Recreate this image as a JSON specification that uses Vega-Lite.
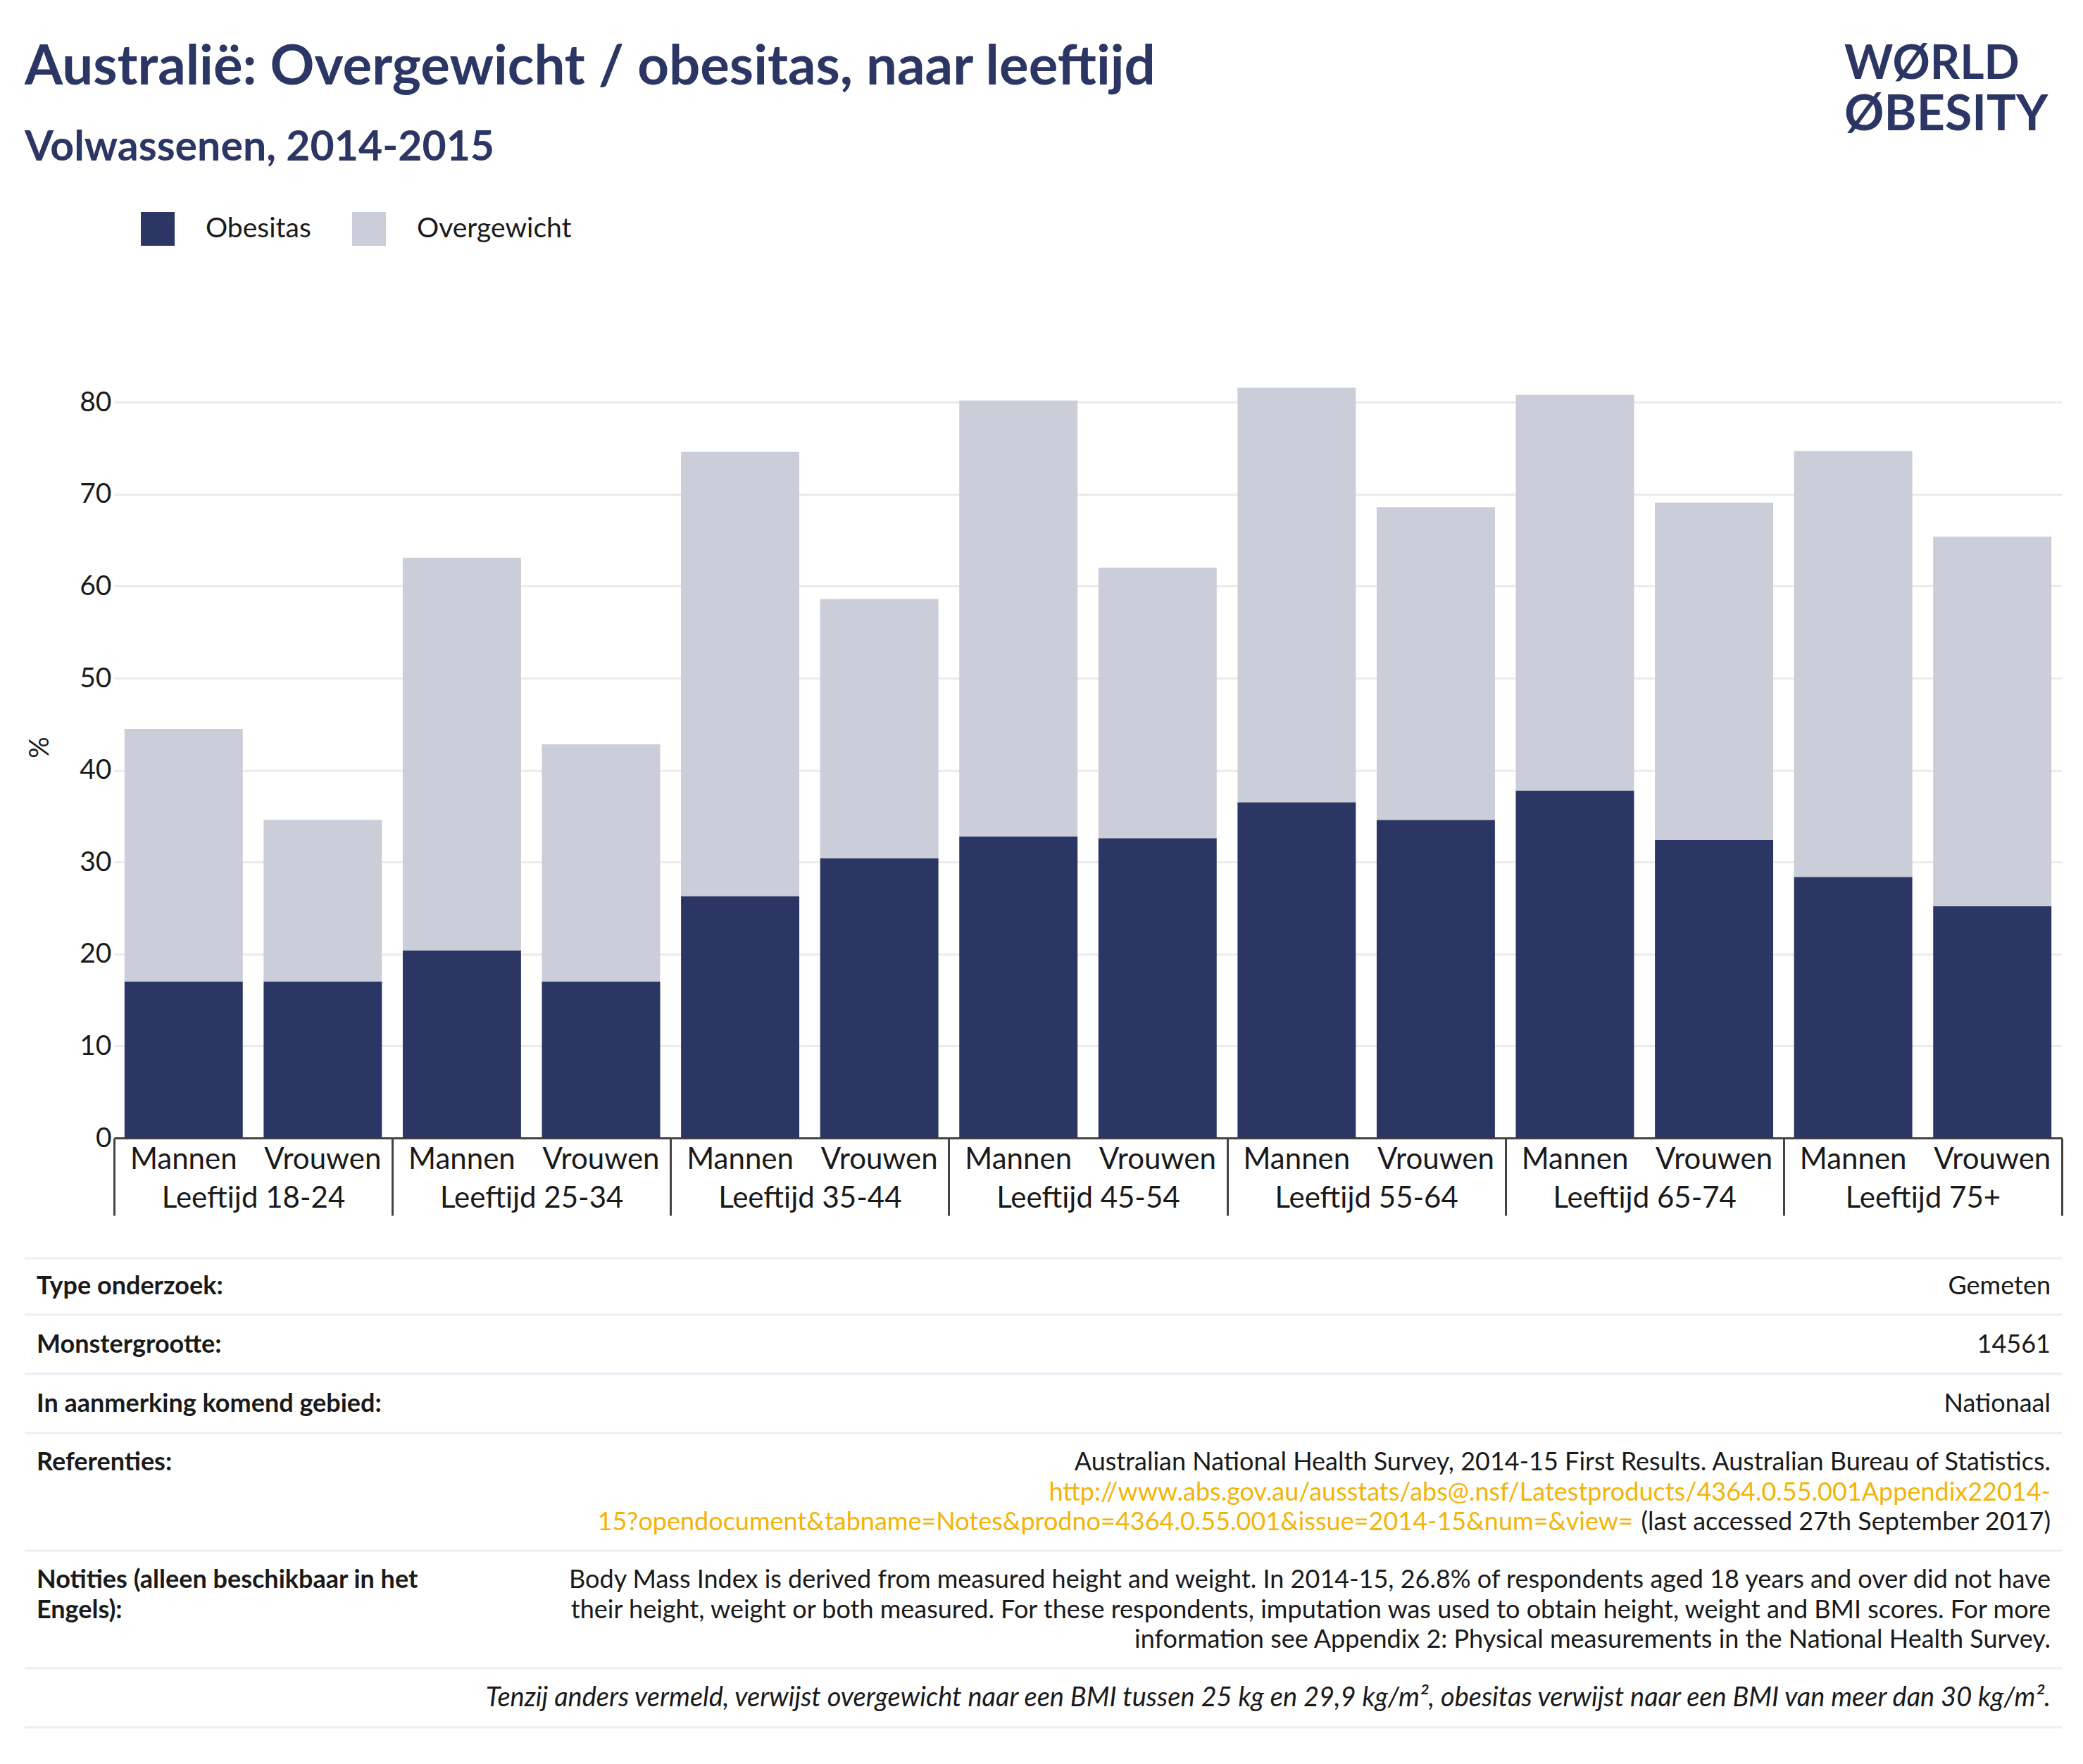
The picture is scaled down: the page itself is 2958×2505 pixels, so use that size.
{
  "$schema": "https://vega.github.io/schema/vega-lite/v6.json",
  "background": "white",
  "padding": {"left": 33, "top": 57, "right": 0, "bottom": 0},
  "columns": 1,
  "spacing": 50,
  "resolve": {"scale": {"color": "independent"}, "legend": {"color": "independent"}},
  "config": {
    "font": "Lato",
    "view": {"stroke": null},
    "text": {"color": "#1a1a1a"}
  },
  "concat": [
    {
      "hconcat": [
        {
          "width": 1700,
          "height": 1,
          "data": {"values": [{}]},
          "mark": {"type": "text"},
          "title": {
            "text": "Australië: Overgewicht / obesitas, naar leeftijd",
            "subtitle": "Volwassenen, 2014-2015",
            "anchor": "start",
            "font": "Lato",
            "subtitleFont": "Lato",
            "fontSize": 78,
            "subtitleFontSize": 59,
            "fontWeight": "bold",
            "subtitleFontWeight": "bold",
            "color": "#2B3664",
            "subtitleColor": "#2B3664",
            "subtitlePadding": 45,
            "offset": 0
          }
        },
        {
          "width": 310,
          "height": 1,
          "data": {"values": [{}]},
          "mark": {"type": "text"},
          "title": {
            "text": "WØRLD",
            "subtitle": "ØBESITY",
            "anchor": "start",
            "font": "Lato",
            "subtitleFont": "Lato",
            "fontSize": 66,
            "subtitleFontSize": 70,
            "fontWeight": "bold",
            "subtitleFontWeight": "bold",
            "color": "#2B3664",
            "subtitleColor": "#2B3664",
            "subtitlePadding": 4,
            "offset": 40
          }
        }
      ],
      "spacing": 884
    },
    {
      "columns": 1,
      "spacing": 57,
      "concat": [
        {
          "width": 2893,
          "height": 1110,
          "data": {
            "values": [
              {"leeftijd": "Leeftijd 18-24", "geslacht": "Mannen", "categorie": "Obesitas", "waarde": 17.0},
              {"leeftijd": "Leeftijd 18-24", "geslacht": "Mannen", "categorie": "Overgewicht", "waarde": 27.5},
              {"leeftijd": "Leeftijd 18-24", "geslacht": "Vrouwen", "categorie": "Obesitas", "waarde": 17.0},
              {"leeftijd": "Leeftijd 18-24", "geslacht": "Vrouwen", "categorie": "Overgewicht", "waarde": 17.6},
              {"leeftijd": "Leeftijd 25-34", "geslacht": "Mannen", "categorie": "Obesitas", "waarde": 20.4},
              {"leeftijd": "Leeftijd 25-34", "geslacht": "Mannen", "categorie": "Overgewicht", "waarde": 42.7},
              {"leeftijd": "Leeftijd 25-34", "geslacht": "Vrouwen", "categorie": "Obesitas", "waarde": 17.0},
              {"leeftijd": "Leeftijd 25-34", "geslacht": "Vrouwen", "categorie": "Overgewicht", "waarde": 25.8},
              {"leeftijd": "Leeftijd 35-44", "geslacht": "Mannen", "categorie": "Obesitas", "waarde": 26.3},
              {"leeftijd": "Leeftijd 35-44", "geslacht": "Mannen", "categorie": "Overgewicht", "waarde": 48.3},
              {"leeftijd": "Leeftijd 35-44", "geslacht": "Vrouwen", "categorie": "Obesitas", "waarde": 30.4},
              {"leeftijd": "Leeftijd 35-44", "geslacht": "Vrouwen", "categorie": "Overgewicht", "waarde": 28.2},
              {"leeftijd": "Leeftijd 45-54", "geslacht": "Mannen", "categorie": "Obesitas", "waarde": 32.8},
              {"leeftijd": "Leeftijd 45-54", "geslacht": "Mannen", "categorie": "Overgewicht", "waarde": 47.4},
              {"leeftijd": "Leeftijd 45-54", "geslacht": "Vrouwen", "categorie": "Obesitas", "waarde": 32.6},
              {"leeftijd": "Leeftijd 45-54", "geslacht": "Vrouwen", "categorie": "Overgewicht", "waarde": 29.4},
              {"leeftijd": "Leeftijd 55-64", "geslacht": "Mannen", "categorie": "Obesitas", "waarde": 36.5},
              {"leeftijd": "Leeftijd 55-64", "geslacht": "Mannen", "categorie": "Overgewicht", "waarde": 45.1},
              {"leeftijd": "Leeftijd 55-64", "geslacht": "Vrouwen", "categorie": "Obesitas", "waarde": 34.6},
              {"leeftijd": "Leeftijd 55-64", "geslacht": "Vrouwen", "categorie": "Overgewicht", "waarde": 34.0},
              {"leeftijd": "Leeftijd 65-74", "geslacht": "Mannen", "categorie": "Obesitas", "waarde": 37.8},
              {"leeftijd": "Leeftijd 65-74", "geslacht": "Mannen", "categorie": "Overgewicht", "waarde": 43.0},
              {"leeftijd": "Leeftijd 65-74", "geslacht": "Vrouwen", "categorie": "Obesitas", "waarde": 32.4},
              {"leeftijd": "Leeftijd 65-74", "geslacht": "Vrouwen", "categorie": "Overgewicht", "waarde": 36.7},
              {"leeftijd": "Leeftijd 75+", "geslacht": "Mannen", "categorie": "Obesitas", "waarde": 28.4},
              {"leeftijd": "Leeftijd 75+", "geslacht": "Mannen", "categorie": "Overgewicht", "waarde": 46.3},
              {"leeftijd": "Leeftijd 75+", "geslacht": "Vrouwen", "categorie": "Obesitas", "waarde": 25.2},
              {"leeftijd": "Leeftijd 75+", "geslacht": "Vrouwen", "categorie": "Overgewicht", "waarde": 40.2}
            ]
          },
          "encoding": {
            "x": {
              "field": "leeftijd",
              "type": "nominal",
              "sort": null,
              "scale": {"paddingInner": 0, "paddingOuter": 0, "range": [127, 2893]},
              "axis": {
                "title": null,
                "labelAngle": 0,
                "labelFontSize": 42,
                "labelColor": "#1a1a1a",
                "labelBaseline": "alphabetic",
                "labelPadding": -12,
                "labelLimit": 0,
                "tickSize": 110,
                "tickBand": "extent",
                "tickColor": "#444444",
                "tickWidth": 3,
                "domainColor": "#444444",
                "domainWidth": 3,
                "grid": false
              }
            },
            "xOffset": {
              "field": "geslacht",
              "type": "nominal",
              "sort": ["Mannen", "Vrouwen"],
              "scale": {"paddingInner": 0.15, "paddingOuter": 0.075}
            }
          },
          "layer": [
            {
              "mark": {"type": "bar"},
              "encoding": {
                "y": {
                  "field": "waarde",
                  "type": "quantitative",
                  "stack": "zero",
                  "scale": {"domain": [0, 85], "nice": false},
                  "axis": {
                    "title": "%",
                    "offset": -127,
                    "titleFontSize": 38,
                    "titleFontWeight": "normal",
                    "titleColor": "#1a1a1a",
                    "titlePadding": 36,
                    "labelFontSize": 39,
                    "labelColor": "#1a1a1a",
                    "labelPadding": 4,
                    "ticks": false,
                    "domain": false,
                    "grid": true,
                    "gridColor": "#EBEBEB",
                    "gridWidth": 3,
                    "values": [0, 10, 20, 30, 40, 50, 60, 70, 80]
                  }
                },
                "color": {
                  "field": "categorie",
                  "type": "nominal",
                  "scale": {"domain": ["Obesitas", "Overgewicht"], "range": ["#2B3664", "#CBCDD9"]},
                  "legend": {
                    "title": null,
                    "orient": "none",
                    "legendX": 165,
                    "legendY": -205,
                    "direction": "horizontal",
                    "symbolType": "square",
                    "symbolSize": 2304,
                    "symbolStrokeWidth": 0,
                    "labelFontSize": 39,
                    "labelColor": "#1a1a1a",
                    "labelOffset": 44,
                    "labelLimit": 0,
                    "columnPadding": 58,
                    "padding": 0
                  }
                },
                "order": {"field": "categorie", "type": "nominal", "sort": "ascending"}
              }
            },
            {
              "transform": [{"filter": "datum.categorie === 'Obesitas'"}],
              "mark": {"type": "text", "baseline": "alphabetic", "dy": 44, "fontSize": 42, "color": "#1a1a1a"},
              "encoding": {
                "y": {"datum": 0, "type": "quantitative"},
                "text": {"field": "geslacht"}
              }
            }
          ]
        },
        {
          "spacing": 0,
          "vconcat": [
            {
              "width": 2893,
              "height": 80,
              "data": {"values": [{"label": "Type onderzoek:", "waarde": "Gemeten"}]},
              "layer": [
                {"mark": {"type": "rule", "color": "#EAEEF5", "strokeWidth": 3}, "encoding": {"y": {"value": 0}}},
                {"mark": {"type": "rule", "color": "#EAEEF5", "strokeWidth": 3}, "encoding": {"y": {"value": "height"}}},
                {"mark": {"type": "text", "align": "left", "fontWeight": "bold", "fontSize": 36, "dx": 17}, "encoding": {"x": {"value": 0}, "text": {"field": "label"}}},
                {"mark": {"type": "text", "align": "right", "fontSize": 36, "dx": -16}, "encoding": {"x": {"value": "width"}, "text": {"field": "waarde"}}}
              ]
            },
            {
              "width": 2893,
              "height": 82,
              "data": {"values": [{"label": "Monstergrootte:", "waarde": "14561"}]},
              "layer": [
                {"mark": {"type": "rule", "color": "#EAEEF5", "strokeWidth": 3}, "encoding": {"y": {"value": "height"}}},
                {"mark": {"type": "text", "align": "left", "fontWeight": "bold", "fontSize": 36, "dx": 17}, "encoding": {"x": {"value": 0}, "text": {"field": "label"}}},
                {"mark": {"type": "text", "align": "right", "fontSize": 36, "dx": -16}, "encoding": {"x": {"value": "width"}, "text": {"field": "waarde"}}}
              ]
            },
            {
              "width": 2893,
              "height": 82,
              "data": {"values": [{"label": "In aanmerking komend gebied:", "waarde": "Nationaal"}]},
              "layer": [
                {"mark": {"type": "rule", "color": "#EAEEF5", "strokeWidth": 3}, "encoding": {"y": {"value": "height"}}},
                {"mark": {"type": "text", "align": "left", "fontWeight": "bold", "fontSize": 36, "dx": 17}, "encoding": {"x": {"value": 0}, "text": {"field": "label"}}},
                {"mark": {"type": "text", "align": "right", "fontSize": 36, "dx": -16}, "encoding": {"x": {"value": "width"}, "text": {"field": "waarde"}}}
              ]
            },
            {
              "width": 2893,
              "height": 165,
              "data": {
                "values": [
                  {"regel": 1, "deel": "label", "tekst": "Referenties:"},
                  {"regel": 1, "deel": "tekst", "tekst": "Australian National Health Survey, 2014-15 First Results. Australian Bureau of Statistics."},
                  {"regel": 2, "deel": "link", "tekst": "http://www.abs.gov.au/ausstats/abs@.nsf/Latestproducts/4364.0.55.001Appendix22014-"},
                  {"regel": 3, "deel": "link2", "tekst": "15?opendocument&tabname=Notes&prodno=4364.0.55.001&issue=2014-15&num=&view="},
                  {"regel": 3, "deel": "tekst", "tekst": "(last accessed 27th September 2017)"}
                ]
              },
              "layer": [
                {"data": {"values": [{}]}, "mark": {"type": "rule", "color": "#EAEEF5", "strokeWidth": 3}, "encoding": {"y": {"value": "height"}}},
                {
                  "transform": [{"filter": "datum.deel === 'label'"}],
                  "mark": {"type": "text", "align": "left", "fontWeight": "bold", "fontSize": 36, "dx": 17},
                  "encoding": {"x": {"value": 0}, "y": {"field": "regel", "type": "ordinal", "scale": {"type": "point", "domain": [1, 2, 3], "padding": 0.92}, "axis": null}, "text": {"field": "tekst"}}
                },
                {
                  "transform": [{"filter": "datum.deel === 'tekst'"}],
                  "mark": {"type": "text", "align": "right", "fontSize": 36, "dx": -16},
                  "encoding": {"x": {"value": "width"}, "y": {"field": "regel", "type": "ordinal", "scale": {"type": "point", "domain": [1, 2, 3], "padding": 0.92}, "axis": null}, "text": {"field": "tekst"}}
                },
                {
                  "transform": [{"filter": "datum.deel === 'link'"}],
                  "mark": {"type": "text", "align": "right", "fontSize": 36, "dx": -16, "color": "#F3B409"},
                  "encoding": {"x": {"value": "width"}, "y": {"field": "regel", "type": "ordinal", "scale": {"type": "point", "domain": [1, 2, 3], "padding": 0.92}, "axis": null}, "text": {"field": "tekst"}}
                },
                {
                  "transform": [{"filter": "datum.deel === 'link2'"}],
                  "mark": {"type": "text", "align": "right", "fontSize": 36, "dx": -609, "color": "#F3B409"},
                  "encoding": {"x": {"value": "width"}, "y": {"field": "regel", "type": "ordinal", "scale": {"type": "point", "domain": [1, 2, 3], "padding": 0.92}, "axis": null}, "text": {"field": "tekst"}}
                }
              ]
            },
            {
              "width": 2893,
              "height": 165,
              "data": {
                "values": [
                  {"regel": 1, "deel": "label", "tekst": "Notities (alleen beschikbaar in het"},
                  {"regel": 2, "deel": "label", "tekst": "Engels):"},
                  {"regel": 1, "deel": "tekst", "tekst": "Body Mass Index is derived from measured height and weight. In 2014-15, 26.8% of respondents aged 18 years and over did not have"},
                  {"regel": 2, "deel": "tekst", "tekst": "their height, weight or both measured. For these respondents, imputation was used to obtain height, weight and BMI scores. For more"},
                  {"regel": 3, "deel": "tekst", "tekst": "information see Appendix 2: Physical measurements in the National Health Survey."}
                ]
              },
              "layer": [
                {"data": {"values": [{}]}, "mark": {"type": "rule", "color": "#EAEEF5", "strokeWidth": 3}, "encoding": {"y": {"value": "height"}}},
                {
                  "transform": [{"filter": "datum.deel === 'label'"}],
                  "mark": {"type": "text", "align": "left", "fontWeight": "bold", "fontSize": 36, "dx": 17},
                  "encoding": {"x": {"value": 0}, "y": {"field": "regel", "type": "ordinal", "scale": {"type": "point", "domain": [1, 2, 3], "padding": 0.92}, "axis": null}, "text": {"field": "tekst"}}
                },
                {
                  "transform": [{"filter": "datum.deel === 'tekst'"}],
                  "mark": {"type": "text", "align": "right", "fontSize": 36, "dx": -16},
                  "encoding": {"x": {"value": "width"}, "y": {"field": "regel", "type": "ordinal", "scale": {"type": "point", "domain": [1, 2, 3], "padding": 0.92}, "axis": null}, "text": {"field": "tekst"}}
                }
              ]
            },
            {
              "width": 2893,
              "height": 82,
              "data": {"values": [{"tekst": "Tenzij anders vermeld, verwijst overgewicht naar een BMI tussen 25 kg en 29,9 kg/m², obesitas verwijst naar een BMI van meer dan 30 kg/m²."}]},
              "layer": [
                {"mark": {"type": "rule", "color": "#EAEEF5", "strokeWidth": 3}, "encoding": {"y": {"value": "height"}}},
                {"mark": {"type": "text", "align": "right", "fontStyle": "italic", "fontSize": 38, "dx": -16}, "encoding": {"x": {"value": "width"}, "text": {"field": "tekst"}}}
              ]
            }
          ]
        }
      ]
    }
  ]
}
